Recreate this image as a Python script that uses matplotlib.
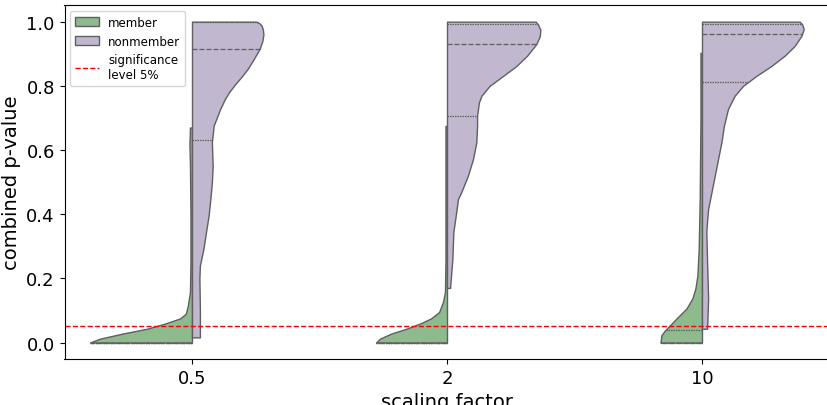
import numpy as np
import matplotlib
matplotlib.use("Agg")
import matplotlib.pyplot as plt
from matplotlib.patches import Patch
from matplotlib.lines import Line2D

# categories on the x axis
factors = ["0.5", "2", "10"]

# violin outlines: height (p-value) and half width
# member (left half), one list per scaling factor
mem_y = [
    [0, 0.012, 0.028, 0.043, 0.059, 0.075, 0.09, 0.116, 0.158, 0.25, 0.4, 0.55, 0.62, 0.67],
    [0, 0.012, 0.028, 0.043, 0.059, 0.075, 0.095, 0.126, 0.157, 0.25, 0.4, 0.55, 0.675],
    [0, 0.023, 0.038, 0.054, 0.075, 0.106, 0.137, 0.168, 0.209, 0.29, 0.447, 0.7, 0.903],
]
mem_w = [
    [0.400, 0.361, 0.271, 0.176, 0.106, 0.047, 0.024, 0.016, 0.008, 0.006, 0.006, 0.008, 0.010, 0.008],
    [0.278, 0.263, 0.218, 0.159, 0.106, 0.063, 0.031, 0.016, 0.008, 0.006, 0.006, 0.006, 0.006],
    [0.163, 0.159, 0.145, 0.125, 0.100, 0.061, 0.038, 0.026, 0.018, 0.013, 0.009, 0.006, 0.006],
]
# nonmember (right half)
non_y = [
    [0.016, 0.1, 0.2, 0.24, 0.293, 0.345, 0.395, 0.447, 0.5, 0.55, 0.624, 0.676, 0.727, 0.759,
     0.78, 0.805, 0.83, 0.855, 0.882, 0.915, 0.94, 0.96, 0.975, 0.988, 0.996, 1.0],
    [0.17, 0.26, 0.345, 0.4, 0.447, 0.469, 0.52, 0.572, 0.624, 0.676, 0.706, 0.748, 0.769, 0.8,
     0.831, 0.862, 0.894, 0.93, 0.955, 0.975, 0.991, 1.0],
    [0.043, 0.137, 0.25, 0.344, 0.38, 0.416, 0.468, 0.52, 0.572, 0.624, 0.676, 0.728, 0.769,
     0.8, 0.831, 0.862, 0.894, 0.925, 0.956, 0.977, 0.993, 1.0],
]
non_w = [
    [0.031, 0.031, 0.029, 0.031, 0.045, 0.055, 0.065, 0.072, 0.078, 0.081, 0.078, 0.085, 0.110,
     0.129, 0.145, 0.169, 0.196, 0.220, 0.241, 0.265, 0.276, 0.280, 0.278, 0.273, 0.263, 0.251],
    [0.012, 0.021, 0.025, 0.035, 0.043, 0.056, 0.082, 0.102, 0.115, 0.118, 0.118, 0.125, 0.135,
     0.167, 0.220, 0.272, 0.314, 0.350, 0.364, 0.366, 0.357, 0.348],
    [0.020, 0.024, 0.020, 0.017, 0.020, 0.024, 0.037, 0.050, 0.063, 0.076, 0.086, 0.102, 0.128,
     0.161, 0.213, 0.272, 0.324, 0.364, 0.390, 0.399, 0.392, 0.383],
]

# quartiles (25, 50, 75)
mem_q = [[0.0, 0.0, 0.0], [0.0, 0.0, 0.0], [0.0, 0.0, 0.038]]
non_q = [[0.63, 0.915, 0.998], [0.706, 0.931, 0.993], [0.812, 0.962, 0.992]]

alpha_level = 0.05

green = "#8fba8e"
purple = "#c1b7cf"
edge = "#5f5f5f"

fig = plt.figure(figsize=(8.27, 4.06), dpi=100)
ax = fig.add_axes([64.5 / 827, 46 / 406, 765 / 827, 354 / 406])


def draw_half(ax, x0, ys, ws, side, color, quarts):
    ys = np.array(ys)
    ws = np.array(ws)
    ax.fill_betweenx(ys, x0, x0 + side * ws, facecolor=color, edgecolor=edge,
                     linewidth=1, zorder=2)
    for i, q in enumerate(quarts):
        w = np.interp(q, ys, ws)
        ls = (0, (4, 1.6)) if i == 1 else (0, (1.2, 0.8))
        ax.plot([x0, x0 + side * w], [q, q], color=edge, lw=0.9, ls=ls, zorder=3)


for i in range(len(factors)):
    draw_half(ax, i, mem_y[i], mem_w[i], -1, green, mem_q[i])
    draw_half(ax, i, non_y[i], non_w[i], 1, purple, non_q[i])

ax.axhline(alpha_level, color="red", ls="--", lw=1, zorder=4)

ax.set_xlim(-0.5, 2.5)
ax.set_ylim(-0.0514, 1.052)
ax.set_xticks(range(len(factors)))
ax.set_xticklabels(factors)
ax.tick_params(labelsize=13)
ax.set_xlabel("scaling factor", fontsize=14)
ax.set_ylabel("combined p-value", fontsize=14)

handles = [
    Patch(facecolor=green, edgecolor=edge, label="member"),
    Patch(facecolor=purple, edgecolor=edge, label="nonmember"),
    Line2D([], [], color="red", ls="--", lw=1, label="significance\nlevel 5%"),
]
ax.legend(handles=handles, loc="upper left", fontsize=8.5)

fig.savefig("out.png", dpi=100)
